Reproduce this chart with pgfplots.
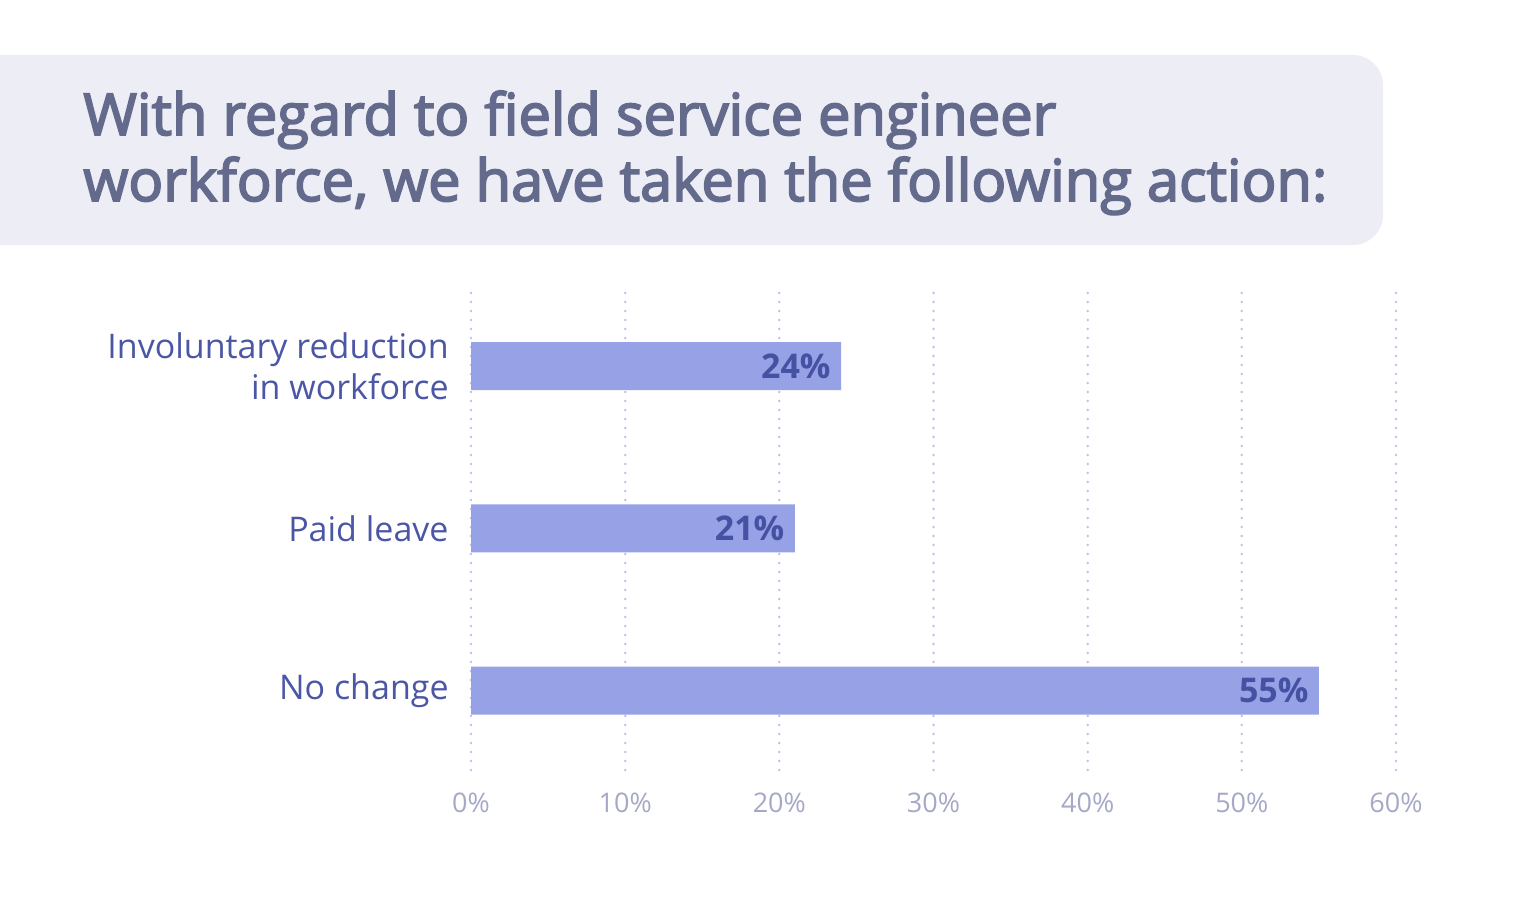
\documentclass[border=0pt]{standalone}
\usepackage{fontspec}
\setmainfont{Open Sans}
\newfontfamily\titlefont[FakeBold=3]{Open Sans}
\usepackage{pgfplots}
\pgfplotsset{compat=1.18}

\definecolor{titlebg}{HTML}{ECEDF5}
\definecolor{titlefg}{HTML}{636A8B}
\definecolor{catfg}{HTML}{4B56A5}
\definecolor{barfill}{HTML}{97A1E6}
\definecolor{valfg}{HTML}{4551A3}
\definecolor{tickfg}{HTML}{A5A8C6}
\definecolor{gridcol}{HTML}{BAC0EF}

\begin{document}
\begin{tikzpicture}[x=1pt,y=1pt]
\path[use as bounding box] (0,0) rectangle (768,461);
% title panel
\fill[titlebg, rounded corners=15pt] (-20,338.5) rectangle (691.5,433.5);
\node[anchor=base west, inner sep=0pt, text=titlefg, font=\fontsize{28.9}{33}\titlefont]
  at (41.5,393.5) {With regard to field service engineer};
\node[anchor=base west, inner sep=0pt, text=titlefg, font=\fontsize{28.9}{33}\titlefont]
  at (41.5,360.5) {workforce, we have taken the following action:};

\begin{axis}[
    at={(235.5pt,76pt)}, anchor=south west,
    scale only axis,
    width=462.5pt, height=240pt,
    xbar, bar width=24pt, bar shift=0pt,
    xmin=0, xmax=60,
    ymin=-0.49, ymax=2.47,
    axis line style={draw=none},
    major tick length=0pt,
    xtick={0,10,...,60},
    ytick={0,1,2},
    yticklabels={{No change},{Paid leave},{Involuntary reduction\\in workforce}},
    /pgf/number format/assume math mode=true,
    xticklabel={\pgfmathprintnumber{\tick}\%},
    xticklabel style={text=tickfg, font=\fontsize{13.5}{16}\selectfont, inner sep=0pt, anchor=north, yshift=-11.5pt},
    yticklabel style={text=catfg, font=\fontsize{17}{20.5}\selectfont, align=right, inner sep=0pt, anchor=east, xshift=-11pt},
    xmajorgrids,
    grid style={draw=gridcol, line width=1.4pt, line cap=round, dash pattern=on 0pt off 4.5pt},
    nodes near coords={\pgfmathprintnumber{\pgfplotspointmeta}\%},
    every node near coord/.append style={anchor=east, inner sep=0pt, xshift=-5pt,
        text=valfg, font=\fontsize{17}{20}\selectfont\bfseries},
]
\addplot[fill=barfill, draw=none] coordinates {(55,0) (21,1) (24,2)};
\end{axis}
\end{tikzpicture}
\end{document}
